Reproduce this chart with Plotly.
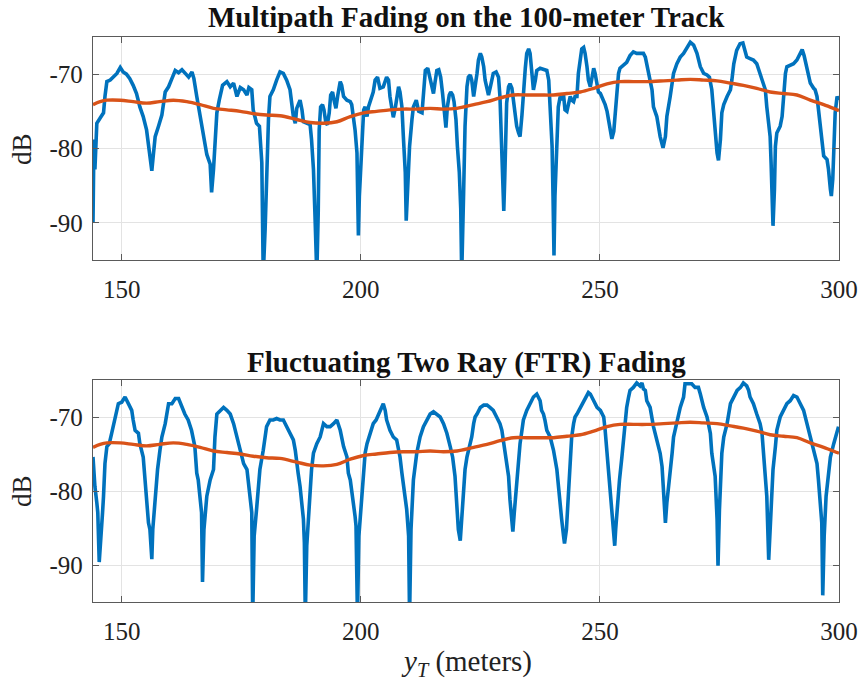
import plotly.graph_objects as go

# ---------------- data ----------------
x_top = [144.0, 144.2, 144.4, 144.6, 144.8, 145.5, 146.2, 146.5, 146.9, 147.6, 148.3, 149.0, 149.7, 150.3, 151.0,
         151.7, 152.4, 153.1, 153.8, 154.5, 155.2, 155.9, 156.3, 156.6, 157.0, 157.7, 158.4, 159.1, 159.8, 160.5,
         161.2, 161.9, 162.6, 163.3, 164.0, 164.7, 165.1, 165.7, 166.4, 167.1, 167.8, 168.5, 168.8, 169.2, 169.5,
         169.9, 170.4, 171.1, 172.0, 172.7, 173.4, 174.1, 174.8, 175.5, 176.2, 176.6, 177.2, 177.5, 178.2, 178.8,
         179.3, 179.6, 180.0, 180.3, 180.7, 181.0, 181.7, 182.4, 183.1, 183.8, 184.5, 185.2, 185.6, 185.9, 186.3,
         186.6, 187.3, 187.7, 188.0, 188.7, 189.4, 189.7, 190.1, 190.4, 190.8, 191.1, 191.3, 191.6, 192.0, 192.3,
         192.7, 193.0, 193.4, 193.7, 194.1, 194.4, 194.8, 195.2, 195.7, 196.0, 196.4, 197.1, 197.8, 198.1, 198.5,
         198.8, 199.2, 199.5, 199.7, 200.2, 200.6, 200.9, 201.3, 201.6, 201.9, 202.3, 202.6, 203.0, 203.5, 204.0,
         204.7, 205.4, 205.8, 206.1, 206.5, 206.8, 207.2, 207.5, 207.9, 208.2, 208.6, 208.9, 209.3, 209.5, 209.8,
         210.2, 210.7, 211.0, 211.6, 212.1, 212.8, 213.1, 213.5, 214.0, 214.5, 215.2, 215.5, 215.9, 216.3, 216.7,
         217.1, 217.4, 217.8, 218.1, 218.5, 218.8, 219.2, 219.5, 219.9, 220.2, 220.6, 220.9, 221.1, 221.5, 221.8,
         222.2, 222.5, 222.9, 223.2, 223.6, 223.9, 224.3, 224.6, 225.0, 225.3, 225.7, 226.0, 226.4, 226.7, 227.1,
         227.4, 227.7, 228.3, 228.8, 229.1, 229.3, 229.6, 229.8, 229.9, 230.1, 230.3, 230.5, 230.9, 231.2, 231.6,
         231.9, 232.3, 232.6, 233.0, 233.3, 233.7, 234.0, 234.4, 234.7, 235.1, 235.4, 235.8, 236.1, 236.5, 236.8,
         237.5, 238.2, 238.9, 239.3, 239.6, 240.0, 240.2, 240.4, 240.6, 241.0, 241.3, 241.7, 242.0, 242.4, 242.7,
         243.1, 243.4, 243.8, 244.1, 244.5, 244.8, 245.2, 245.5, 245.9, 246.2, 246.6, 246.9, 247.3, 247.6, 248.0,
         248.3, 248.7, 249.0, 249.4, 249.7, 250.1, 250.4, 250.8, 251.1, 251.5, 251.8, 252.2, 252.5, 252.9, 253.2,
         253.5, 253.9, 254.2, 254.9, 255.6, 256.3, 257.0, 257.7, 258.4, 259.1, 259.5, 259.8, 260.5, 260.9, 261.2,
         261.9, 262.6, 263.2, 263.7, 264.0, 264.7, 265.4, 266.1, 266.8, 267.5, 268.2, 268.9, 269.6, 270.3, 271.0,
         271.7, 272.4, 272.9, 273.4, 273.8, 274.1, 274.5, 274.8, 275.2, 275.5, 275.9, 276.6, 277.3, 277.6, 278.0,
         278.6, 279.3, 279.9, 280.4, 280.7, 281.4, 282.1, 282.8, 283.5, 284.2, 284.6, 284.9, 285.3, 285.6, 285.8,
         286.0, 286.2, 286.5, 286.7, 287.0, 287.4, 287.7, 288.1, 288.4, 288.8, 289.1, 289.8, 290.5, 291.2, 291.9,
         292.3, 292.7, 293.3, 294.0, 294.7, 295.0, 295.4, 295.7, 296.1, 296.4, 296.8, 297.5, 297.8, 298.2, 298.4,
         298.7, 298.9, 299.2, 299.6, 299.9]
db_top = [-90.0, -78.8, -82.8, -78.0, -76.6, -75.9, -75.2, -73.0, -71.0, -70.8, -70.4, -69.9, -69.1, -69.7, -70.0,
          -70.6, -71.5, -72.6, -74.4, -75.7, -77.5, -80.6, -83.0, -81.0, -78.4, -77.0, -75.5, -72.4, -71.7, -70.6,
          -69.5, -69.8, -69.4, -69.9, -70.4, -69.7, -70.6, -73.0, -75.7, -78.8, -80.8, -82.1, -85.9, -82.8, -79.7,
          -75.2, -73.5, -71.5, -71.0, -71.7, -71.2, -73.0, -71.8, -72.1, -72.8, -71.8, -72.1, -74.8, -76.6, -77.0,
          -81.9, -97.0, -90.8, -84.0, -76.0, -73.0, -72.1, -70.8, -69.7, -69.9, -70.8, -72.1, -73.9, -75.7, -76.6,
          -74.6, -73.5, -74.8, -76.4, -76.6, -76.8, -78.8, -82.8, -88.6, -97.0, -88.6, -77.5, -74.4, -74.1, -74.8,
          -76.6, -76.8, -75.2, -72.8, -72.4, -73.5, -74.6, -72.8, -71.0, -71.5, -73.0, -73.5, -73.7, -74.1, -75.7,
          -77.5, -80.6, -91.7, -86.4, -78.8, -74.8, -74.4, -75.7, -74.4, -73.9, -73.2, -72.4, -70.8, -70.4, -71.9,
          -71.7, -70.4, -70.8, -73.0, -74.8, -75.8, -74.6, -73.0, -71.7, -72.4, -74.4, -78.4, -83.2, -89.7, -84.1,
          -79.7, -76.1, -74.4, -73.5, -75.0, -75.2, -73.0, -69.5, -69.2, -70.8, -72.6, -71.2, -69.5, -69.4, -70.4,
          -72.6, -74.8, -77.2, -74.4, -72.8, -72.4, -72.8, -73.7, -76.1, -79.7, -83.2, -88.1, -97.0, -86.0, -77.0,
          -71.7, -70.4, -70.1, -70.8, -73.0, -71.9, -69.9, -68.1, -67.2, -67.7, -69.0, -70.8, -72.1, -72.8, -71.7,
          -70.8, -69.9, -69.7, -70.4, -73.0, -76.6, -80.1, -84.1, -88.4, -84.1, -77.5, -73.9, -71.7, -71.3, -71.9,
          -73.5, -75.2, -77.0, -77.9, -78.4, -75.5, -71.9, -69.2, -67.2, -66.6, -67.2, -69.5, -72.1, -70.8, -69.5,
          -69.2, -69.4, -69.5, -70.8, -75.2, -79.7, -86.4, -94.4, -86.4, -77.5, -74.4, -73.0, -73.5, -72.8, -74.8,
          -75.0, -73.9, -73.0, -73.5, -73.7, -73.0, -73.0, -69.9, -68.1, -66.6, -66.4, -67.2, -69.0, -70.8, -71.7,
          -70.4, -69.2, -69.9, -71.2, -72.4, -72.6, -73.0, -73.5, -74.1, -75.0, -76.1, -77.5, -78.7, -77.7, -75.2,
          -71.7, -69.9, -69.2, -68.8, -68.4, -67.5, -67.0, -67.2, -67.2, -67.2, -67.7, -68.6, -70.4, -72.1, -74.4,
          -75.7, -78.4, -79.9, -78.4, -75.7, -73.0, -69.9, -68.6, -67.7, -67.2, -66.4, -65.7, -66.1, -67.2, -69.0,
          -69.9, -70.1, -70.4, -72.1, -75.2, -78.4, -80.6, -81.6, -78.8, -75.2, -74.1, -73.0, -72.1, -70.8, -68.6,
          -66.8, -65.9, -65.8, -66.8, -67.7, -67.9, -68.1, -68.6, -69.9, -71.2, -72.1, -74.4, -77.0, -78.4, -81.9,
          -85.5, -90.4, -85.5, -79.7, -77.9, -77.5, -77.0, -75.7, -73.0, -69.9, -69.0, -68.8, -68.6, -68.1, -67.2,
          -66.7, -67.5, -69.0, -71.2, -71.9, -72.1, -73.0, -74.8, -77.5, -78.8, -81.0, -81.5, -82.8, -85.5, -86.4,
          -84.1, -78.8, -75.2, -73.0, -73.5]

x_bot = [144.0, 144.2, 144.4, 144.8, 145.0, 145.3, 145.5, 145.7, 146.0, 146.2, 146.5, 146.9, 147.4, 147.9, 148.3,
         149.0, 149.3, 150.0, 150.7, 151.4, 152.1, 152.4, 152.8, 153.5, 153.8, 154.5, 154.9, 155.2, 155.6, 155.9,
         156.3, 156.5, 156.8, 157.2, 157.5, 158.0, 158.4, 159.1, 159.8, 160.5, 161.2, 161.9, 162.6, 163.2, 163.9,
         164.6, 165.3, 165.7, 166.0, 166.4, 166.7, 166.9, 167.2, 167.8, 168.5, 169.2, 169.5, 169.9, 170.6, 171.3,
         172.0, 172.7, 173.4, 174.1, 174.8, 175.5, 176.2, 176.8, 177.2, 177.4, 177.7, 178.2, 178.9, 179.6, 180.3,
         181.0, 181.7, 182.4, 183.1, 183.8, 184.5, 185.2, 185.9, 186.3, 186.6, 186.9, 187.3, 187.7, 188.0, 188.2,
         188.4, 188.7, 189.0, 189.4, 189.7, 190.1, 190.8, 191.5, 192.2, 192.9, 193.6, 194.3, 195.0, 195.7, 196.0,
         196.4, 197.1, 197.4, 197.8, 198.1, 198.5, 198.8, 199.0, 199.3, 199.6, 200.0, 200.6, 200.9, 201.3, 201.9,
         202.6, 203.2, 203.7, 204.4, 204.7, 205.1, 205.4, 206.1, 206.8, 207.5, 207.9, 208.2, 208.6, 208.9, 209.3,
         209.6, 210.0, 210.2, 210.5, 211.0, 211.7, 212.4, 213.1, 213.8, 214.5, 215.2, 215.9, 216.6, 217.3, 218.0,
         218.7, 219.2, 219.7, 220.1, 220.4, 220.8, 221.5, 221.8, 222.2, 222.5, 222.9, 223.2, 223.6, 223.9, 224.3,
         224.6, 225.0, 225.7, 226.4, 227.0, 227.7, 228.4, 229.1, 229.5, 229.8, 230.2, 230.5, 230.9, 231.2, 231.6,
         231.8, 232.1, 232.5, 233.0, 233.3, 233.7, 234.0, 234.7, 235.4, 236.1, 236.8, 237.5, 237.8, 238.2, 238.5,
         238.9, 239.6, 240.3, 241.0, 241.3, 241.7, 242.0, 242.4, 242.6, 243.0, 243.4, 243.8, 244.1, 244.5, 244.8,
         245.2, 245.9, 246.6, 247.3, 247.6, 248.0, 248.7, 249.4, 250.1, 250.8, 251.1, 251.5, 251.8, 252.2, 252.5,
         252.9, 253.1, 253.3, 253.7, 254.1, 254.6, 255.0, 255.3, 255.6, 256.0, 256.3, 257.0, 257.7, 258.4, 258.8,
         259.1, 259.5, 259.8, 260.5, 261.2, 261.9, 262.6, 263.0, 263.3, 263.5, 263.7, 264.0, 264.4, 264.7, 265.1,
         265.4, 266.1, 266.8, 267.5, 267.8, 268.5, 269.2, 269.9, 270.6, 271.0, 271.3, 271.7, 272.4, 273.1, 273.4,
         273.8, 274.1, 274.5, 274.7, 275.0, 275.2, 275.5, 275.9, 276.6, 277.3, 278.0, 278.7, 279.4, 280.0, 280.7,
         281.1, 281.4, 282.1, 282.8, 283.5, 283.9, 284.2, 284.6, 284.9, 285.3, 285.5, 285.8, 286.2, 286.7, 287.0,
         287.7, 288.4, 289.1, 289.8, 290.5, 291.2, 291.9, 292.6, 293.3, 294.0, 294.7, 295.4, 295.7, 296.1, 296.4,
         296.6, 296.9, 297.3, 297.8, 298.2, 298.9, 299.6, 299.9]
db_bot = [-75.4, -77.6, -79.4, -81.6, -82.9, -89.6, -87.0, -85.2, -82.9, -80.7, -76.3, -74.0, -73.6, -72.2, -70.9,
          -69.1, -68.2, -68.0, -67.3, -68.2, -69.1, -70.4, -71.8, -72.2, -73.6, -75.4, -78.5, -81.6, -84.3, -85.2,
          -89.2, -85.2, -82.5, -79.4, -77.1, -74.5, -72.7, -70.9, -68.2, -68.2, -67.5, -67.5, -68.7, -69.6, -70.4,
          -71.8, -74.0, -77.6, -78.5, -80.7, -82.9, -92.3, -85.2, -80.7, -78.5, -77.1, -72.7, -69.6, -69.1, -68.7,
          -69.1, -69.6, -70.9, -72.7, -74.5, -76.3, -77.1, -80.3, -82.9, -97.0, -86.1, -82.5, -77.1, -74.5, -71.3,
          -70.4, -70.4, -70.2, -70.4, -70.4, -71.3, -72.2, -73.1, -74.5, -76.7, -77.6, -79.4, -81.6, -83.8, -87.0,
          -97.0, -87.4, -83.8, -79.4, -77.1, -74.9, -73.6, -72.7, -70.9, -71.3, -71.3, -70.9, -70.4, -71.8, -72.7,
          -74.0, -75.4, -77.6, -78.5, -79.8, -81.6, -83.4, -84.7, -97.0, -86.1, -82.5, -77.1, -74.9, -73.6, -72.2,
          -70.9, -70.4, -69.6, -68.7, -68.2, -69.1, -70.4, -71.8, -72.7, -73.1, -74.5, -75.4, -77.6, -78.9, -81.2,
          -82.5, -86.1, -97.0, -85.2, -78.5, -74.9, -72.7, -71.3, -70.4, -69.6, -69.3, -69.6, -70.0, -70.9, -72.2,
          -74.0, -75.4, -78.0, -81.6, -85.2, -86.7, -79.4, -77.1, -75.4, -74.5, -73.6, -72.7, -70.9, -70.0, -69.6,
          -69.1, -68.7, -68.4, -68.4, -68.7, -69.1, -70.0, -70.9, -71.8, -73.1, -74.5, -76.3, -78.0, -81.2, -84.3,
          -85.5, -82.9, -79.4, -76.3, -73.6, -71.8, -70.4, -69.1, -68.2, -67.3, -66.9, -67.8, -69.1, -69.6, -70.4,
          -71.8, -72.7, -74.5, -77.1, -79.4, -81.6, -83.8, -86.1, -87.1, -85.2, -80.7, -76.3, -72.7, -70.9, -70.0,
          -69.6, -68.7, -67.8, -66.9, -66.7, -66.9, -67.8, -68.7, -69.1, -70.0, -71.8, -74.9, -77.6, -79.8, -82.5,
          -85.2, -87.4, -85.2, -81.6, -78.5, -75.4, -72.2, -70.4, -68.7, -67.3, -66.4, -66.0, -65.4, -65.8, -65.4,
          -66.2, -66.4, -67.8, -68.7, -71.3, -73.1, -74.9, -76.7, -79.8, -82.5, -84.3, -81.6, -79.4, -77.1, -74.9,
          -72.7, -70.4, -68.7, -67.3, -65.5, -65.5, -65.5, -66.0, -66.0, -66.9, -67.8, -68.7, -70.0, -72.2, -74.9,
          -76.7, -78.0, -83.8, -90.1, -82.5, -78.0, -74.9, -72.7, -70.9, -68.2, -67.3, -66.4, -66.0, -65.4, -65.8,
          -66.4, -67.3, -68.2, -69.6, -70.9, -72.2, -74.5, -77.1, -80.7, -89.3, -86.1, -81.6, -77.1, -74.0, -71.8,
          -70.0, -69.1, -68.2, -67.8, -67.1, -67.3, -68.2, -69.1, -70.9, -72.7, -74.5, -76.3, -78.5, -81.2, -84.3,
          -94.1, -86.1, -80.7, -77.1, -75.4, -73.6, -71.8, -71.3]

x_mean = [144.0, 145.5, 146.9, 149.7, 152.4, 155.2, 157.9, 160.8, 163.6, 166.4, 169.2, 172.0, 174.8, 177.5, 180.3,
          183.1, 186.6, 189.4, 192.2, 195.0, 197.8, 200.6, 203.3, 206.1, 208.9, 211.7, 214.5, 217.3, 220.1, 223.6,
          226.4, 229.1, 231.9, 234.7, 237.5, 240.3, 243.1, 245.9, 248.7, 251.5, 254.2, 257.0, 259.8, 263.3, 266.1,
          268.9, 271.7, 274.5, 277.3, 280.0, 282.8, 285.6, 288.4, 291.2, 294.0, 296.8, 299.6, 300.0]
db_mean = [-74.1, -73.7, -73.5, -73.5, -73.7, -73.9, -73.7, -73.5, -73.7, -74.1, -74.6, -74.8, -75.0, -75.3, -75.5,
           -75.6, -76.1, -76.5, -76.6, -76.4, -75.7, -75.2, -75.0, -74.8, -74.7, -74.7, -74.6, -74.7, -74.6, -74.1,
           -73.7, -73.2, -72.8, -72.8, -72.8, -72.8, -72.6, -72.4, -71.9, -71.3, -71.0, -71.0, -71.0, -70.9, -70.8,
           -70.7, -70.8, -70.9, -71.2, -71.5, -71.9, -72.4, -72.6, -72.8, -73.5, -74.1, -74.8, -74.9]

x_ticks = [150, 200, 250, 300]
y_ticks = [-90, -80, -70]
y_ticktext = ["-90", "-80", "-70"]
titles = ["Multipath Fading on the 100-meter Track", "Fluctuating Two Ray (FTR) Fading"]
y_label = "dB"
x_label = "<i>y</i><sub><i>T</i></sub> (meters)"

# ---------------- figure ----------------
BLUE = "#0072BD"
ORANGE = "#D95319"
FONT = "Liberation Serif"
W, H = 862, 689
ML, MR, MT, MB = 93, 23, 37, 87
PW = W - ML - MR
PH = H - MT - MB

fig = go.Figure()
fig.add_trace(go.Scatter(x=x_top, y=db_top, mode="lines", line=dict(color=BLUE, width=3.6),
                         xaxis="x", yaxis="y", showlegend=False))
fig.add_trace(go.Scatter(x=x_mean, y=db_mean, mode="lines", line=dict(color=ORANGE, width=3.4, shape="spline"),
                         xaxis="x", yaxis="y", showlegend=False))
fig.add_trace(go.Scatter(x=x_bot, y=db_bot, mode="lines", line=dict(color=BLUE, width=3.6),
                         xaxis="x2", yaxis="y2", showlegend=False))
fig.add_trace(go.Scatter(x=x_mean, y=db_mean, mode="lines", line=dict(color=ORANGE, width=3.4, shape="spline"),
                         xaxis="x2", yaxis="y2", showlegend=False))

top_dom = [1 - (260 - 37) / PH, 1.0]
bot_dom = [0.0, (602 - 380) / PH]

axis_common = dict(showline=True, linecolor="#5a5a5a", linewidth=1.3, mirror="ticks",
                   ticks="inside", ticklen=6, tickcolor="#5a5a5a", automargin=False,
                   showgrid=True, gridcolor="#e3e3e3", gridwidth=1, zeroline=False,
                   tickfont=dict(family=FONT, size=25, color="#222"))
xax = dict(axis_common, range=[144, 300], tickvals=x_ticks, ticklabelstandoff=7)
yax = dict(axis_common, range=[-95, -65], tickvals=y_ticks, ticktext=y_ticktext, ticklabelstandoff=4)


def py(pix):
    """pixel row -> paper y"""
    return (H - MB - pix) / PH


def px(pix):
    return (pix - ML) / PW


fig.update_layout(
    width=W, height=H,
    margin=dict(l=ML, r=MR, t=MT, b=MB, autoexpand=False),
    paper_bgcolor="white", plot_bgcolor="white",
    xaxis=dict(xax, anchor="y"),
    yaxis=dict(yax, domain=top_dom, anchor="x"),
    xaxis2=dict(xax, anchor="y2"),
    yaxis2=dict(yax, domain=bot_dom, anchor="x2"),
    annotations=[
        dict(text="<b>%s</b>" % titles[0], xref="paper", yref="paper", x=0.5, y=py(17),
             xanchor="center", yanchor="middle", showarrow=False,
             font=dict(family=FONT, size=29, color="#111")),
        dict(text="<b>%s</b>" % titles[1], xref="paper", yref="paper", x=0.5, y=py(362),
             xanchor="center", yanchor="middle", showarrow=False,
             font=dict(family=FONT, size=29, color="#111")),
        dict(text=x_label, xref="paper", yref="paper", x=0.5, y=py(663),
             xanchor="center", yanchor="middle", showarrow=False,
             font=dict(family=FONT, size=29, color="#222")),
        dict(text=y_label, xref="paper", yref="paper", x=px(22), y=py(149), textangle=-90,
             xanchor="center", yanchor="middle", showarrow=False,
             font=dict(family=FONT, size=27, color="#222")),
        dict(text=y_label, xref="paper", yref="paper", x=px(22), y=py(491), textangle=-90,
             xanchor="center", yanchor="middle", showarrow=False,
             font=dict(family=FONT, size=27, color="#222")),
    ],
)

fig.write_html("out.html")
